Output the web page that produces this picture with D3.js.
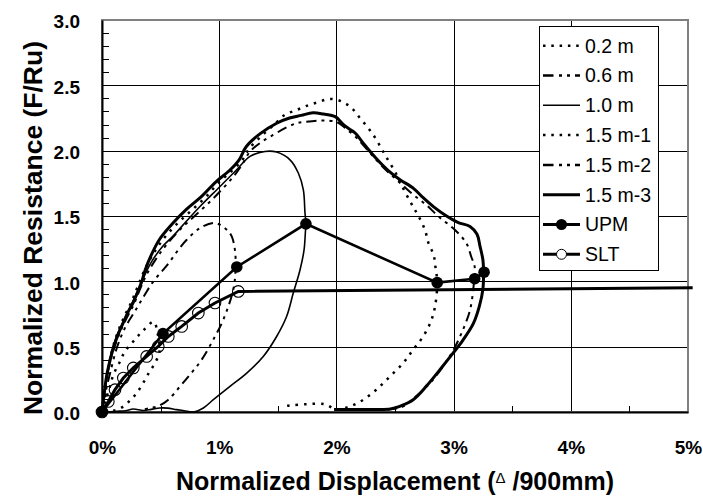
<!DOCTYPE html>
<html><head><meta charset="utf-8">
<script src="https://cdn.jsdelivr.net/npm/d3@7/dist/d3.min.js"></script>
<style>body{margin:0;background:#fff}svg{display:block}</style>
</head><body>
<svg id="c" width="703" height="497"></svg>
<script>
// ---- data (x: normalized displacement %, y: normalized resistance F/Ru) ----
const xTicks = [0, 1, 2, 3, 4, 5];
const yTicks = [0, 0.5, 1.0, 1.5, 2.0, 2.5, 3.0];
const seriesNames = ["0.2 m", "0.6 m", "1.0 m", "1.5 m-1", "1.5 m-2", "1.5 m-3", "UPM", "SLT"];

const s02 = [[0,0],[0.03,0.09],[0.068,0.196],[0.097,0.285],[0.154,0.387],[0.196,0.464],[0.28,0.553],[0.352,0.624],[0.44,0.69],[0.475,0.6],[0.49,0.46],[0.455,0.38],[0.4,0.3],[0.35,0.22],[0.3,0.15],[0.245,0.094],[0.17,0.035],[0.1,0.01],[0.05,0.005]];
const s06 = [[0,0],[0.03,0.15],[0.07,0.3],[0.13,0.5],[0.2,0.65],[0.28,0.77],[0.36,0.89],[0.438,1.0],[0.523,1.089],[0.58,1.152],[0.65,1.24],[0.723,1.318],[0.836,1.408],[0.95,1.446],[1.007,1.433],[1.07,1.39],[1.107,1.344],[1.134,1.24],[1.14,1.1],[1.12,0.936],[1.035,0.706],[0.964,0.578],[0.85,0.4],[0.75,0.285],[0.666,0.196],[0.566,0.094],[0.48,0.045],[0.41,0.03],[0.33,0.015]];
const s10 = [[0,0],[0.03,0.22],[0.07,0.42],[0.12,0.57],[0.18,0.69],[0.24,0.8],[0.3,0.92],[0.36,1.04],[0.43,1.16],[0.52,1.27],[0.61,1.35],[0.72,1.46],[0.836,1.573],[1.007,1.726],[1.149,1.854],[1.263,1.956],[1.39,1.994],[1.49,1.989],[1.604,1.93],[1.675,1.829],[1.718,1.7],[1.732,1.523],[1.74,1.446],[1.735,1.37],[1.724,1.24],[1.69,1.089],[1.632,0.91],[1.575,0.731],[1.49,0.578],[1.376,0.425],[1.235,0.298],[1.092,0.196],[0.95,0.094],[0.865,0.031],[0.78,0.0],[0.7,0.01],[0.635,0.018],[0.56,0.03],[0.494,0.031],[0.42,0.02],[0.352,0.012],[0.267,0.023],[0.2,0.01],[0.125,0.005],[0.05,0.0]];
const s151 = [[0,0],[0.03,0.2],[0.08,0.45],[0.13,0.6],[0.19,0.73],[0.25,0.84],[0.3,0.95],[0.36,1.08],[0.43,1.2],[0.52,1.32],[0.64,1.44],[0.76,1.54],[0.88,1.64],[0.99,1.75],[1.1,1.84],[1.19,1.92],[1.26,2.02],[1.37,2.12],[1.47,2.2],[1.56,2.275],[1.65,2.307],[1.746,2.343],[1.846,2.372],[1.945,2.396],[2.045,2.377],[2.13,2.326],[2.2,2.25],[2.27,2.175],[2.33,2.1],[2.39,2.007],[2.44,1.93],[2.5,1.84],[2.54,1.765],[2.6,1.66],[2.655,1.57],[2.7,1.5],[2.755,1.395],[2.785,1.295],[2.83,1.2],[2.845,1.11],[2.86,0.99],[2.84,0.8],[2.8,0.68],[2.74,0.578],[2.655,0.477],[2.57,0.375],[2.457,0.272],[2.34,0.17],[2.23,0.094],[2.116,0.043],[2.0,0.02],[1.9,0.06],[1.75,0.06],[1.6,0.05],[1.53,0.04]];
const s152 = [[0,0],[0.03,0.2],[0.08,0.42],[0.14,0.58],[0.2,0.7],[0.27,0.82],[0.32,0.93],[0.38,1.05],[0.46,1.17],[0.55,1.28],[0.67,1.4],[0.79,1.5],[0.91,1.6],[1.02,1.7],[1.12,1.8],[1.2,1.9],[1.26,1.99],[1.35,2.06],[1.46,2.12],[1.575,2.178],[1.66,2.21],[1.73,2.22],[1.874,2.231],[2.0,2.22],[2.08,2.17],[2.17,2.1],[2.27,2.0],[2.37,1.9],[2.46,1.82],[2.56,1.74],[2.66,1.66],[2.765,1.586],[2.88,1.49],[3.01,1.395],[3.11,1.29],[3.15,1.19],[3.18,1.11],[3.17,0.96],[3.14,0.78],[3.08,0.63],[3.0,0.477],[2.91,0.35],[2.8,0.222],[2.68,0.12],[2.57,0.043],[2.45,0.02],[2.2,0.02],[2.0,0.02]];
const s153 = [[0,0],[0.02,0.15],[0.04,0.28],[0.07,0.4],[0.097,0.49],[0.14,0.6],[0.18,0.68],[0.225,0.77],[0.267,0.84],[0.31,0.93],[0.34,1.0],[0.37,1.09],[0.42,1.2],[0.49,1.32],[0.6,1.44],[0.72,1.55],[0.85,1.65],[0.97,1.76],[1.09,1.85],[1.17,1.93],[1.23,2.03],[1.35,2.13],[1.49,2.21],[1.6,2.25],[1.7,2.27],[1.8,2.29],[1.89,2.28],[1.99,2.26],[2.06,2.2],[2.12,2.16],[2.16,2.135],[2.24,2.045],[2.34,1.94],[2.44,1.85],[2.54,1.78],[2.66,1.71],[2.74,1.64],[2.83,1.57],[2.94,1.5],[3.04,1.45],[3.14,1.42],[3.2,1.36],[3.225,1.27],[3.25,1.165],[3.255,1.09],[3.25,0.94],[3.22,0.81],[3.17,0.68],[3.08,0.55],[2.995,0.45],[2.88,0.32],[2.77,0.2],[2.655,0.094],[2.54,0.043],[2.46,0.023],[2.3,0.02],[2.1,0.02],[1.98,0.02]];
const upmD = [0, 0.52, 1.15, 1.74, 2.86, 3.18, 3.26];
const upmR = [0, 0.60, 1.11, 1.44, 0.99, 1.02, 1.07];
const sltD = [0, 0.054, 0.111, 0.182, 0.267, 0.381, 0.48, 0.566, 0.68, 0.822, 0.964, 1.163, 5.04];
const sltR = [0, 0.081, 0.171, 0.26, 0.337, 0.425, 0.502, 0.578, 0.655, 0.757, 0.834, 0.923, 0.95];

// ---- layout ----
const L = 102, R = 688, T = 20, B = 412;
const svg = d3.select("#c");
const x = d3.scaleLinear().domain([0, 5]).range([L, R]);
const y = d3.scaleLinear().domain([0, 3]).range([B, T]);
const FONT = "'Liberation Sans', Arial, sans-serif";

svg.append("rect").attr("width", 703).attr("height", 497).attr("fill", "#fff");

// grid
const gy = svg.append("g").attr("transform", `translate(${L},0)`)
  .call(d3.axisLeft(y).tickValues(yTicks.slice(1, -1)).tickSize(-(R - L)).tickFormat(""));
gy.select(".domain").remove();
gy.selectAll("line").attr("stroke", "#000").attr("stroke-width", 1).attr("shape-rendering", "crispEdges");
const gx = svg.append("g").attr("transform", `translate(0,${B})`)
  .call(d3.axisBottom(x).tickValues(xTicks.slice(1, -1)).tickSize(-(B - T)).tickFormat(""));
gx.select(".domain").remove();
gx.selectAll("line").attr("stroke", "#000").attr("stroke-width", 1).attr("shape-rendering", "crispEdges");

// border (top/right grey)
svg.append("rect").attr("x", L).attr("y", T).attr("width", R - L).attr("height", B - T)
  .attr("fill", "none").attr("stroke", "#808080").attr("stroke-width", 1.3).attr("shape-rendering", "crispEdges");

// minor ticks
const yMinor = d3.range(0, 31).map(i => i / 10).filter(v => Math.abs(v * 2 - Math.round(v * 2)) > 1e-6);
const my = svg.append("g").attr("transform", `translate(${L},0)`)
  .call(d3.axisLeft(y).tickValues(yMinor).tickSize(-7).tickFormat(""));
my.select(".domain").remove();
my.selectAll("line").attr("stroke", "#000").attr("shape-rendering", "crispEdges");
const mx = svg.append("g").attr("transform", `translate(0,${B})`)
  .call(d3.axisBottom(x).tickValues([0.5, 1.5, 2.5, 3.5, 4.5]).tickSize(-6).tickFormat(""));
mx.select(".domain").remove();
mx.selectAll("line").attr("stroke", "#000").attr("shape-rendering", "crispEdges");

// axes with labels
const ay = svg.append("g").attr("transform", `translate(${L},0)`)
  .call(d3.axisLeft(y).tickValues(yTicks).tickSize(0).tickPadding(22).tickFormat(d3.format(".1f")));
ay.select(".domain").attr("stroke", "#000").attr("stroke-width", 2);
ay.selectAll("text").attr("font-family", FONT).attr("font-weight", "bold").attr("font-size", 19).attr("fill", "#000").attr("dy", "0.42em");
const ax = svg.append("g").attr("transform", `translate(0,${B})`)
  .call(d3.axisBottom(x).tickValues(xTicks).tickSize(0).tickPadding(28.5).tickFormat(d => d + "%"));
ax.select(".domain").attr("stroke", "#000").attr("stroke-width", 2);
ax.selectAll("text").attr("font-family", FONT).attr("font-weight", "bold").attr("font-size", 19).attr("fill", "#000");

// axis titles
svg.append("text").attr("transform", "translate(41.5,228) rotate(-90)")
  .attr("text-anchor", "middle").attr("font-family", FONT).attr("font-weight", "bold").attr("font-size", 26.5)
  .text("Normalized Resistance (F/Ru)");
const xt = svg.append("text").attr("x", 395).attr("y", 490).attr("text-anchor", "middle")
  .attr("font-family", FONT).attr("font-weight", "bold").attr("font-size", 25);
xt.append("tspan").text("Normalized Displacement (");
xt.append("tspan").attr("font-size", 15).attr("font-weight", "normal").attr("dy", -7).text("\u0394");
xt.append("tspan").attr("dy", 7).text(" /900mm)");

// series styles
const DOT = "2.5,6", DDD = "10,5,3,5,3,5";
const styles = [
  {data: s02, w: 2.5, dash: DOT},
  {data: s06, w: 2, dash: DDD},
  {data: s10, w: 1.6, dash: null},
  {data: s151, w: 2.5, dash: DOT},
  {data: s152, w: 2, dash: DDD},
  {data: s153, w: 3, dash: null},
];
const line = d3.line().x(d => x(d[0])).y(d => y(d[1])).curve(d3.curveCatmullRom.alpha(0.5));
styles.forEach(s => {
  svg.append("path").datum(s.data).attr("d", line).attr("fill", "none").attr("stroke", "#000")
    .attr("stroke-width", s.w).attr("stroke-dasharray", s.dash).attr("stroke-linejoin", "round");
});

const lin = d3.line().x(d => x(d[0])).y(d => y(d[1]));
const slt = sltD.map((d, i) => [d, sltR[i]]);
svg.append("path").datum(slt).attr("d", lin).attr("fill", "none").attr("stroke", "#000").attr("stroke-width", 3);
svg.selectAll(".sltm").data(slt.filter(d => d[0] <= 5)).enter().append("circle")
  .attr("cx", d => x(d[0])).attr("cy", d => y(d[1])).attr("r", 5.8)
  .attr("fill", "none").attr("stroke", "#000").attr("stroke-width", 1.1);
const upm = upmD.map((d, i) => [d, upmR[i]]);
svg.append("path").datum(upm).attr("d", lin).attr("fill", "none").attr("stroke", "#000").attr("stroke-width", 2.6);
svg.selectAll(".upmm").data(upm).enter().append("circle")
  .attr("cx", d => x(d[0])).attr("cy", d => y(d[1])).attr("r", 5.8).attr("fill", "#000");

// legend
const lg = svg.append("g");
lg.append("rect").attr("x", 539.5).attr("y", 26.5).attr("width", 119).attr("height", 244)
  .attr("fill", "#fff").attr("stroke", "#000").attr("stroke-width", 1);
const legStyles = [
  {w: 2.5, dash: "2.5,5.8"}, {w: 2.5, dash: "10.5,5.5,3,5,3,5"}, {w: 1.6, dash: null},
  {w: 2.5, dash: "2.5,5.8"}, {w: 2.5, dash: "10.5,5.5,3,5,3,5"}, {w: 3, dash: null},
  {w: 3, dash: null, m: "fill"}, {w: 3, dash: null, m: "open"}
];
seriesNames.forEach((name, i) => {
  const cy = 45.7 + i * 29.8;
  const st = legStyles[i];
  lg.append("line").attr("x1", 543).attr("x2", 580).attr("y1", cy).attr("y2", cy)
    .attr("stroke", "#000").attr("stroke-width", st.w).attr("stroke-dasharray", st.dash);
  if (st.m === "fill") lg.append("circle").attr("cx", 561.5).attr("cy", cy).attr("r", 5.5).attr("fill", "#000");
  if (st.m === "open") lg.append("circle").attr("cx", 561.5).attr("cy", cy).attr("r", 5).attr("fill", "#fff").attr("stroke", "#000").attr("stroke-width", 1);
  lg.append("text").attr("x", 585).attr("y", cy + 6.8).attr("font-family", FONT).attr("font-size", 19.5)
    .attr("fill", "#000").text(name);
});
</script>
</body></html>
